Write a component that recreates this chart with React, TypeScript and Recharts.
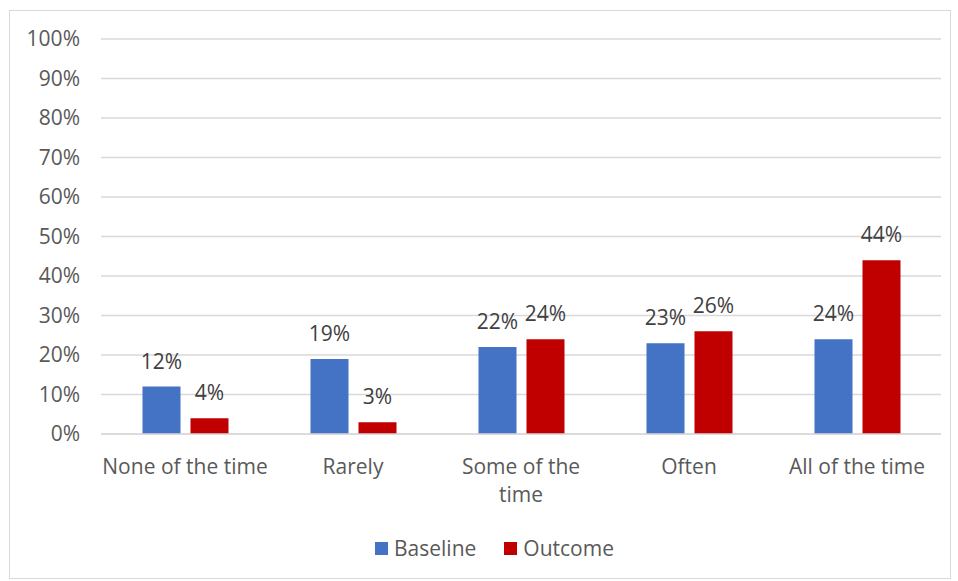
import React from "react";
import {
  BarChart,
  Bar,
  XAxis,
  YAxis,
  CartesianGrid,
  LabelList,
  Legend,
} from "recharts";

const categories = [
  "None of the time",
  "Rarely",
  "Some of the time",
  "Often",
  "All of the time",
];
// how each category name is broken over lines under the axis
const categoryLines = [
  ["None of the time"],
  ["Rarely"],
  ["Some of the", "time"],
  ["Often"],
  ["All of the time"],
];
const baseline = [12, 19, 22, 23, 24];
const outcome = [4, 3, 24, 26, 44];
const yTicks = [0, 10, 20, 30, 40, 50, 60, 70, 80, 90, 100];

const seriesColors = { Baseline: "#4472C4", Outcome: "#C00000" };
const FONT = "'Open Sans', sans-serif";
const FONT_SIZE = 21;

const data = categories.map((name, i) => ({
  name,
  Baseline: baseline[i],
  Outcome: outcome[i],
}));

function CategoryTick(props: any) {
  const { x, y, index } = props;
  const lines = categoryLines[index] ?? [props.payload.value];
  return (
    <g>
      {lines.map((line: string, i: number) => (
        <text
          key={i}
          x={x}
          y={y + 32 + i * 28}
          textAnchor="middle"
          fill="#595959"
          fontSize={FONT_SIZE}
          fontFamily={FONT}
        >
          {line}
        </text>
      ))}
    </g>
  );
}

function LegendContent() {
  return (
    <div
      style={{
        display: "flex",
        justifyContent: "center",
        alignItems: "center",
        height: 40,
        paddingLeft: 38,
        fontFamily: FONT,
        fontSize: FONT_SIZE,
        color: "#595959",
      }}
    >
      {Object.entries(seriesColors).map(([name, color], i) => (
        <div
          key={name}
          style={{
            display: "flex",
            alignItems: "center",
            marginLeft: i === 0 ? 0 : 28,
          }}
        >
          <span
            style={{
              display: "inline-block",
              width: 13,
              height: 13,
              background: color,
              marginRight: 6,
            }}
          />
          <span>{name}</span>
        </div>
      ))}
    </div>
  );
}

export default function App() {
  return (
    <div
      style={{
        position: "absolute",
        left: 9,
        top: 10,
        width: 940,
        height: 567,
        border: "1px solid #d9d9d9",
        background: "#fff",
      }}
    >
      <BarChart
        width={940}
        height={567}
        data={data}
        margin={{ top: 28, right: 9, bottom: 10, left: 0 }}
        barGap={10}
        barCategoryGap="24.7%"
      >
        <CartesianGrid vertical={false} stroke="#d9d9d9" strokeWidth={1.3} />
        <XAxis
          dataKey="name"
          height={94}
          axisLine={{ stroke: "#d9d9d9", strokeWidth: 1.3 }}
          tickLine={false}
          tick={<CategoryTick />}
          interval={0}
        />
        <YAxis
          width={91}
          domain={[0, 100]}
          ticks={yTicks}
          interval={0}
          axisLine={false}
          tickLine={false}
          tickSize={0}
          tickMargin={21}
          tickFormatter={(v: number) => `${v}%`}
          tick={{ fill: "#595959", fontSize: FONT_SIZE, fontFamily: FONT }}
        />
        <Legend verticalAlign="bottom" height={40} content={<LegendContent />} />
        <Bar dataKey="Baseline" fill={seriesColors.Baseline} isAnimationActive={false}>
          <LabelList
            dataKey="Baseline"
            position="top"
            offset={18}
            formatter={(v: any) => `${v}%`}
            fill="#404040"
            fontSize={FONT_SIZE}
            fontFamily={FONT}
          />
        </Bar>
        <Bar dataKey="Outcome" fill={seriesColors.Outcome} isAnimationActive={false}>
          <LabelList
            dataKey="Outcome"
            position="top"
            offset={18}
            formatter={(v: any) => `${v}%`}
            fill="#404040"
            fontSize={FONT_SIZE}
            fontFamily={FONT}
          />
        </Bar>
      </BarChart>
    </div>
  );
}
